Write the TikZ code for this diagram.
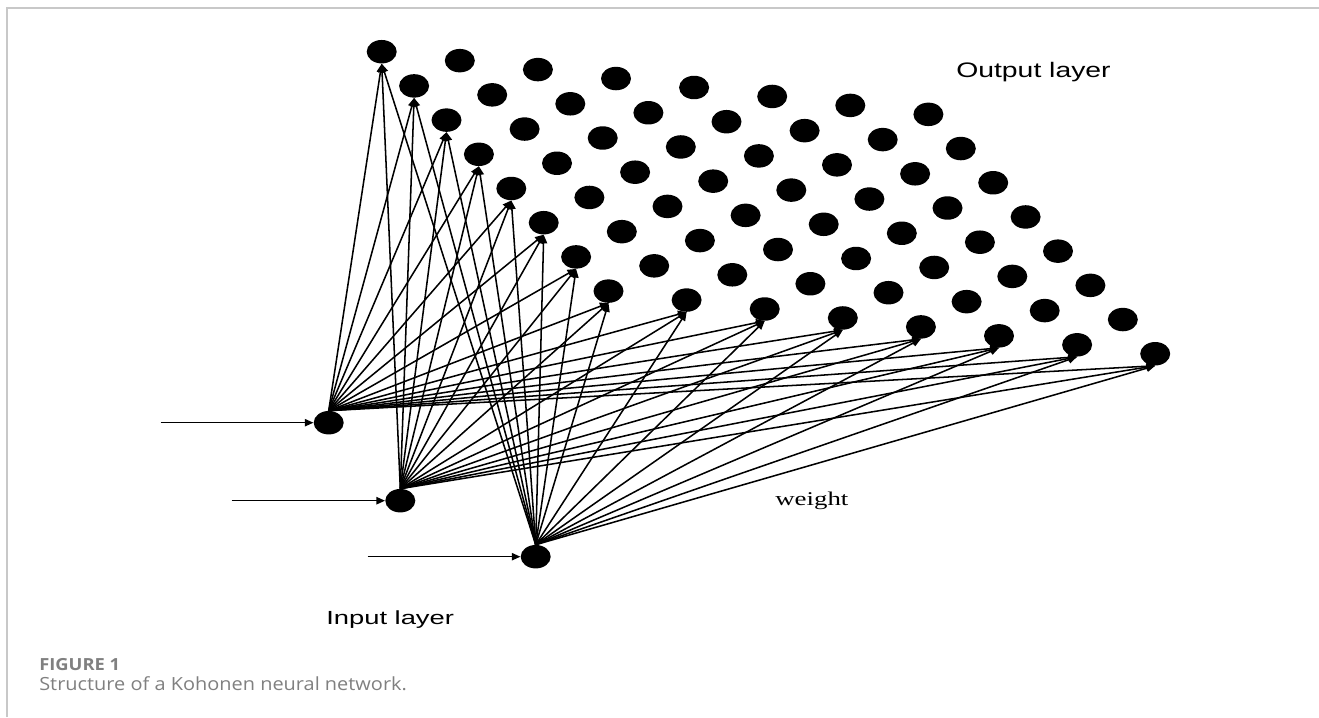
\documentclass[tikz,border=0pt]{standalone}
\usepackage{graphicx}
\usepackage{fontspec}
\setmainfont{Liberation Serif}
\newfontfamily\labelfont{Liberation Sans}
\newfontfamily\capfont{Open Sans}
\usetikzlibrary{shapes.geometric,arrows.meta}
\definecolor{framegray}{HTML}{C8C8C8}
\definecolor{capgray}{HTML}{808080}
\begin{document}
\begin{tikzpicture}[x=0.75pt,y=-0.75pt,
  neuron/.style={ellipse,fill=black,draw=none,minimum width=22.5pt,minimum height=17.6pt,inner sep=0pt},
  link/.style={line width=1.15pt,-{Triangle[length=6.5pt,width=5.5pt]}},
  frame/.style={draw=framegray,line width=1.2pt},
  txt/.style={anchor=base west,inner sep=0pt}
]
\useasboundingbox (0,0) rectangle (1319,717);
\draw[frame] (7,717) -- (7,8) -- (1319,8);

% 8 x 8 output grid (skewed)
\foreach \i in {0,...,7}
  \foreach \j in {0,...,7}
    \node[neuron] (o-\i-\j) at ({381.7+78.1*\i+32.4*\j},{51.7+8.95*\i+34.2*\j}) {};

% input neurons
\node[neuron] (in1) at (328.7,422.7) {};
\node[neuron] (in2) at (400.3,500.7) {};
\node[neuron] (in3) at (535.7,556.7) {};
\coordinate (s1) at (160.7,422.7);
\coordinate (s2) at (231.7,500.7);
\coordinate (s3) at (367.7,556.7);
\draw[link] (s1) -- (in1.west);
\draw[link] (s2) -- (in2.west);
\draw[link] (s3) -- (in3.west);

% weights: every input to the left column and the bottom row
\foreach \n in {in1,in2,in3} {
  \foreach \j in {0,...,7} \draw[link] (\n.north) -- (o-0-\j.south);
  \foreach \i in {1,...,7} \draw[link] (\n.north) -- (o-\i-7.south);
}

\node[txt] (outlbl) at (956,78) {\labelfont\fontsize{15.75pt}{18pt}\selectfont\scalebox{1.35}[1]{Output layer}};
\node[txt] (wlbl) at (775,505) {\fontsize{14.6pt}{17pt}\selectfont\scalebox{1.38}[1]{weight}};
\node[txt] (inlbl) at (326,624.3) {\labelfont\fontsize{14.25pt}{17pt}\selectfont\scalebox{1.44}[1]{Input layer}};

\node[txt] (fig) at (39,670.7) {\capfont\bfseries\fontsize{12.5pt}{14pt}\selectfont\color{capgray}\scalebox{1.1}[1]{FIGURE 1}};
\node[txt] (cap) at (39,690) {\capfont\fontsize{13.6pt}{16pt}\selectfont\color{capgray}\scalebox{1.1}[1]{Structure of a Kohonen neural network.}};
\end{tikzpicture}
\end{document}
